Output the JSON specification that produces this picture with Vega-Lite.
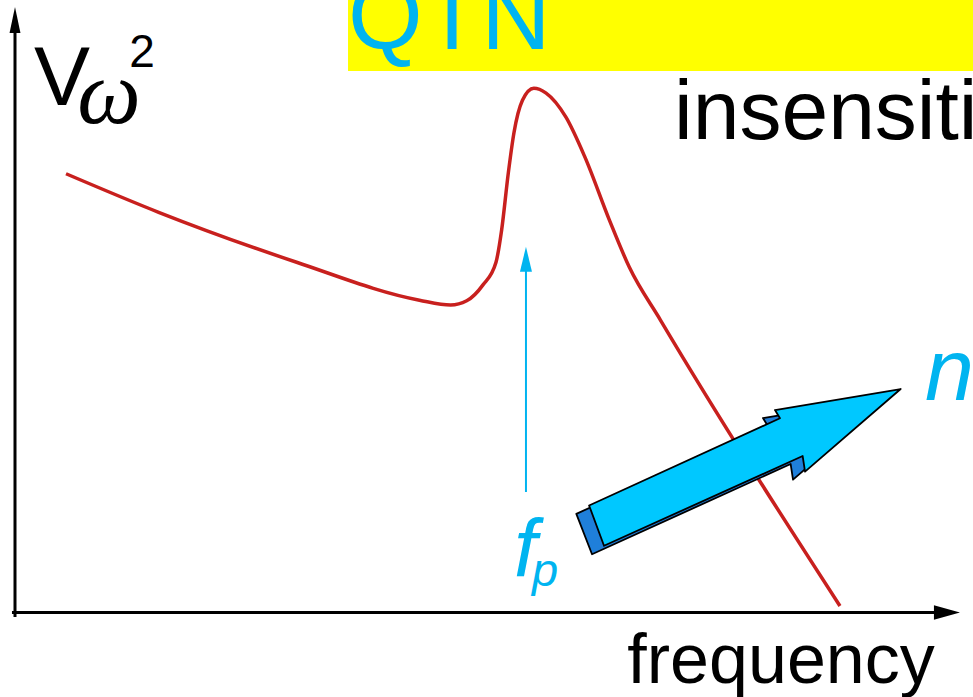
{
  "$schema": "https://vega.github.io/schema/vega-lite/v6.json",
  "autosize": {"type": "none"},
  "width": 945,
  "height": 602,
  "padding": {"left": 15, "top": 10, "right": 13, "bottom": 85},
  "background": "white",
  "config": {"view": {"stroke": null}},
  "datasets": {
    "curve": [
      {"f": 5.4, "v": 72.8}, {"f": 15.2, "v": 66.4}, {"f": 29.8, "v": 58.1}, {"f": 42.8, "v": 51.8},
      {"f": 46.1, "v": 51.0}, {"f": 47.8, "v": 51.7}, {"f": 49.5, "v": 54.3}, {"f": 50.9, "v": 58.1},
      {"f": 51.5, "v": 63.5}, {"f": 52.2, "v": 72.9}, {"f": 52.8, "v": 79.6}, {"f": 53.7, "v": 85.0},
      {"f": 54.9, "v": 87.0}, {"f": 56.2, "v": 86.2}, {"f": 58.3, "v": 82.2}, {"f": 60.3, "v": 75.6},
      {"f": 62.9, "v": 65.1}, {"f": 65.0, "v": 57.3}, {"f": 68.3, "v": 48.5}, {"f": 87.3, "v": 1.0}
    ],
    "arrow3d": [
      {"face": "back", "i": 1, "f": 59.4, "v": 16.3},
      {"face": "back", "i": 2, "f": 79.68, "v": 30.85},
      {"face": "back", "i": 3, "f": 79.15, "v": 32.22},
      {"face": "back", "i": 4, "f": 92.45, "v": 35.71},
      {"face": "back", "i": 5, "f": 82.33, "v": 21.98},
      {"face": "back", "i": 6, "f": 82.08, "v": 24.58},
      {"face": "back", "i": 7, "f": 61.06, "v": 9.6},
      {"face": "front", "i": 1, "f": 60.75, "v": 17.7},
      {"face": "front", "i": 2, "f": 80.95, "v": 32.18},
      {"face": "front", "i": 3, "f": 80.42, "v": 33.55},
      {"face": "front", "i": 4, "f": 93.72, "v": 37.04},
      {"face": "front", "i": 5, "f": 83.60, "v": 23.31},
      {"face": "front", "i": 6, "f": 83.35, "v": 25.91},
      {"face": "front", "i": 7, "f": 62.33, "v": 11.0}
    ]
  },
  "layer": [
    {
      "data": {"values": [{"f": 35.24, "f2": 105, "v": 89.87, "v2": 105}]},
      "mark": {"type": "rect", "fill": "#FFFF00"},
      "encoding": {
        "x": {"field": "f", "type": "quantitative", "scale": {"domain": [0, 100], "nice": false, "zero": false}, "axis": null},
        "x2": {"field": "f2"},
        "y": {"field": "v", "type": "quantitative", "scale": {"domain": [0, 100], "nice": false, "zero": false}, "axis": null},
        "y2": {"field": "v2"}
      }
    },
    {
      "data": {"values": [{"f": 35.24, "v": 93.52, "t": "QTN"}]},
      "mark": {"type": "text", "font": "Liberation Sans", "fontSize": 96, "fill": "#00B4F0", "align": "left", "baseline": "alphabetic"},
      "encoding": {
        "x": {"field": "f", "type": "quantitative", "scale": {"domain": [0, 100], "nice": false, "zero": false}, "axis": null},
        "y": {"field": "v", "type": "quantitative", "scale": {"domain": [0, 100], "nice": false, "zero": false}, "axis": null},
        "text": {"field": "t"}
      }
    },
    {
      "data": {"values": [{"f": 69.74, "v": 78.6, "t": "insensitive"}]},
      "mark": {"type": "text", "font": "Liberation Sans", "fontSize": 84, "fill": "#000000", "align": "left", "baseline": "alphabetic"},
      "encoding": {
        "x": {"field": "f", "type": "quantitative", "scale": {"domain": [0, 100], "nice": false, "zero": false}, "axis": null},
        "y": {"field": "v", "type": "quantitative", "scale": {"domain": [0, 100], "nice": false, "zero": false}, "axis": null},
        "text": {"field": "t"}
      }
    },
    {
      "data": {"name": "curve"},
      "mark": {"type": "line", "stroke": "#C8201E", "strokeWidth": 3.5, "interpolate": "monotone"},
      "encoding": {
        "x": {"field": "f", "type": "quantitative", "scale": {"domain": [0, 100], "nice": false, "zero": false}, "axis": null},
        "y": {"field": "v", "type": "quantitative", "scale": {"domain": [0, 100], "nice": false, "zero": false}, "axis": null}
      }
    },
    {
      "data": {"values": [
        {"f": 0, "f2": 0, "v": -0.83, "v2": 96.5},
        {"f": -0.32, "f2": 97.9, "v": -0.08, "v2": -0.08}
      ]},
      "mark": {"type": "rule", "stroke": "#000000", "strokeWidth": 3},
      "encoding": {
        "x": {"field": "f", "type": "quantitative", "scale": {"domain": [0, 100], "nice": false, "zero": false}, "axis": null},
        "x2": {"field": "f2"},
        "y": {"field": "v", "type": "quantitative", "scale": {"domain": [0, 100], "nice": false, "zero": false}, "axis": null},
        "y2": {"field": "v2"}
      }
    },
    {
      "data": {"values": [{"f": 0, "v": 98.34}]},
      "mark": {"type": "point", "shape": "M0,-1L0.42,1L-0.42,1Z", "size": 676, "filled": true, "fill": "#000000", "opacity": 1, "strokeWidth": 0},
      "encoding": {
        "x": {"field": "f", "type": "quantitative", "scale": {"domain": [0, 100], "nice": false, "zero": false}, "axis": null},
        "y": {"field": "v", "type": "quantitative", "scale": {"domain": [0, 100], "nice": false, "zero": false}, "axis": null}
      }
    },
    {
      "data": {"values": [{"f": 98.62, "v": -0.08}]},
      "mark": {"type": "point", "shape": "M1,0L-1,0.55L-1,-0.55Z", "size": 676, "filled": true, "fill": "#000000", "opacity": 1, "strokeWidth": 0},
      "encoding": {
        "x": {"field": "f", "type": "quantitative", "scale": {"domain": [0, 100], "nice": false, "zero": false}, "axis": null},
        "y": {"field": "v", "type": "quantitative", "scale": {"domain": [0, 100], "nice": false, "zero": false}, "axis": null}
      }
    },
    {
      "data": {"values": [{"f": 54.07, "v": 19.93, "v2": 57.0}]},
      "mark": {"type": "rule", "stroke": "#00B4F0", "strokeWidth": 2},
      "encoding": {
        "x": {"field": "f", "type": "quantitative", "scale": {"domain": [0, 100], "nice": false, "zero": false}, "axis": null},
        "y": {"field": "v", "type": "quantitative", "scale": {"domain": [0, 100], "nice": false, "zero": false}, "axis": null},
        "y2": {"field": "v2"}
      }
    },
    {
      "data": {"values": [{"f": 54.07, "v": 58.6}]},
      "mark": {"type": "point", "shape": "M0,-1L0.48,1L-0.48,1Z", "size": 625, "filled": true, "fill": "#00B4F0", "opacity": 1, "strokeWidth": 0},
      "encoding": {
        "x": {"field": "f", "type": "quantitative", "scale": {"domain": [0, 100], "nice": false, "zero": false}, "axis": null},
        "y": {"field": "v", "type": "quantitative", "scale": {"domain": [0, 100], "nice": false, "zero": false}, "axis": null}
      }
    },
    {
      "data": {"name": "arrow3d"},
      "transform": [{"filter": "datum.face === 'back'"}],
      "mark": {"type": "line", "interpolate": "linear-closed", "fill": "#1F7FDA", "stroke": "#000000", "strokeWidth": 1.8, "strokeJoin": "round"},
      "encoding": {
        "x": {"field": "f", "type": "quantitative", "scale": {"domain": [0, 100], "nice": false, "zero": false}, "axis": null},
        "y": {"field": "v", "type": "quantitative", "scale": {"domain": [0, 100], "nice": false, "zero": false}, "axis": null},
        "order": {"field": "i", "type": "quantitative"}
      }
    },
    {
      "data": {"name": "arrow3d"},
      "transform": [{"filter": "datum.face === 'front'"}],
      "mark": {"type": "line", "interpolate": "linear-closed", "fill": "#00C8FF", "stroke": "#000000", "strokeWidth": 1.8, "strokeJoin": "round"},
      "encoding": {
        "x": {"field": "f", "type": "quantitative", "scale": {"domain": [0, 100], "nice": false, "zero": false}, "axis": null},
        "y": {"field": "v", "type": "quantitative", "scale": {"domain": [0, 100], "nice": false, "zero": false}, "axis": null},
        "order": {"field": "i", "type": "quantitative"}
      }
    },
    {
      "data": {"values": [{"f": 96.3, "v": 35.22, "t": "n"}]},
      "mark": {"type": "text", "font": "Liberation Sans", "fontSize": 88, "fontStyle": "italic", "fill": "#00B4F0", "align": "left", "baseline": "alphabetic"},
      "encoding": {
        "x": {"field": "f", "type": "quantitative", "scale": {"domain": [0, 100], "nice": false, "zero": false}, "axis": null},
        "y": {"field": "v", "type": "quantitative", "scale": {"domain": [0, 100], "nice": false, "zero": false}, "axis": null},
        "text": {"field": "t"}
      }
    },
    {
      "data": {"values": [{"f": 52.8, "v": 6.0, "t": "f"}]},
      "mark": {"type": "text", "font": "Liberation Sans", "fontSize": 82, "fontStyle": "italic", "fill": "#00B4F0", "align": "left", "baseline": "alphabetic"},
      "encoding": {
        "x": {"field": "f", "type": "quantitative", "scale": {"domain": [0, 100], "nice": false, "zero": false}, "axis": null},
        "y": {"field": "v", "type": "quantitative", "scale": {"domain": [0, 100], "nice": false, "zero": false}, "axis": null},
        "text": {"field": "t"}
      }
    },
    {
      "data": {"values": [{"f": 54.7, "v": 4.3, "t": "p"}]},
      "mark": {"type": "text", "font": "Liberation Sans", "fontSize": 47, "fontStyle": "italic", "fill": "#00B4F0", "align": "left", "baseline": "alphabetic"},
      "encoding": {
        "x": {"field": "f", "type": "quantitative", "scale": {"domain": [0, 100], "nice": false, "zero": false}, "axis": null},
        "y": {"field": "v", "type": "quantitative", "scale": {"domain": [0, 100], "nice": false, "zero": false}, "axis": null},
        "text": {"field": "t"}
      }
    },
    {
      "data": {"values": [{"f": 2.0, "v": 84.22, "t": "V"}]},
      "mark": {"type": "text", "font": "Liberation Sans", "fontSize": 84, "fill": "#000000", "align": "left", "baseline": "alphabetic"},
      "encoding": {
        "x": {"field": "f", "type": "quantitative", "scale": {"domain": [0, 100], "nice": false, "zero": false}, "axis": null},
        "y": {"field": "v", "type": "quantitative", "scale": {"domain": [0, 100], "nice": false, "zero": false}, "axis": null},
        "text": {"field": "t"}
      }
    },
    {
      "data": {"values": [{"f": 6.6, "v": 81.2, "t": "ω"}]},
      "mark": {"type": "text", "font": "Liberation Serif", "fontSize": 90, "fontStyle": "italic", "fill": "#000000", "align": "left", "baseline": "alphabetic"},
      "encoding": {
        "x": {"field": "f", "type": "quantitative", "scale": {"domain": [0, 100], "nice": false, "zero": false}, "axis": null},
        "y": {"field": "v", "type": "quantitative", "scale": {"domain": [0, 100], "nice": false, "zero": false}, "axis": null},
        "text": {"field": "t"}
      }
    },
    {
      "data": {"values": [{"f": 12.1, "v": 90.5, "t": "2"}]},
      "mark": {"type": "text", "font": "Liberation Sans", "fontSize": 46, "fill": "#000000", "align": "left", "baseline": "alphabetic"},
      "encoding": {
        "x": {"field": "f", "type": "quantitative", "scale": {"domain": [0, 100], "nice": false, "zero": false}, "axis": null},
        "y": {"field": "v", "type": "quantitative", "scale": {"domain": [0, 100], "nice": false, "zero": false}, "axis": null},
        "text": {"field": "t"}
      }
    },
    {
      "data": {"values": [{"f": 64.8, "v": -11.79, "t": "frequency"}]},
      "mark": {"type": "text", "font": "Liberation Sans", "fontSize": 70, "fill": "#000000", "align": "left", "baseline": "alphabetic"},
      "encoding": {
        "x": {"field": "f", "type": "quantitative", "scale": {"domain": [0, 100], "nice": false, "zero": false}, "axis": null},
        "y": {"field": "v", "type": "quantitative", "scale": {"domain": [0, 100], "nice": false, "zero": false}, "axis": null},
        "text": {"field": "t"}
      }
    }
  ]
}
